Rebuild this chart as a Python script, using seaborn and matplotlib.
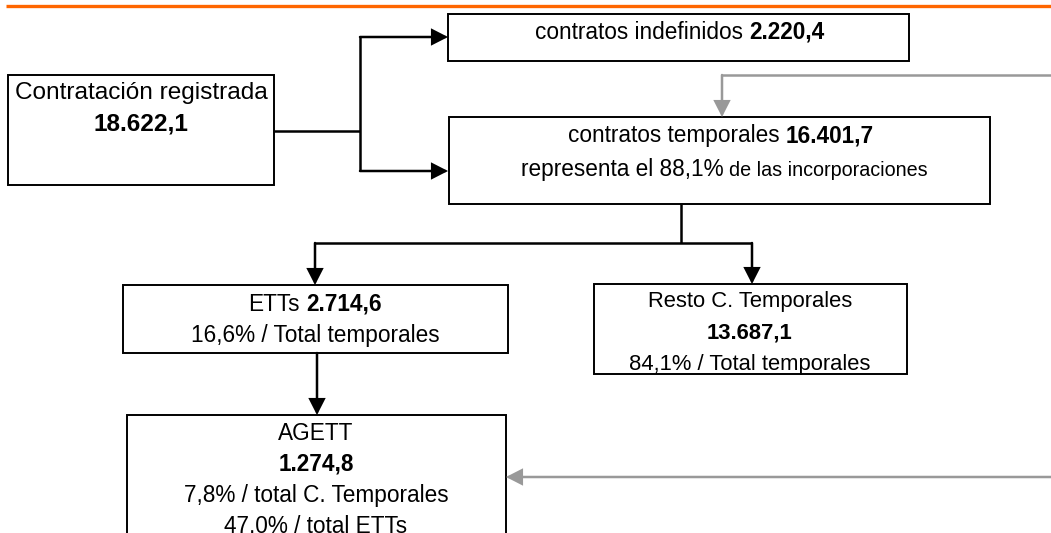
import matplotlib
matplotlib.use("Agg")
import matplotlib.pyplot as plt
from matplotlib.patches import Rectangle
import seaborn as sns

# ---------------- data ----------------
node_titles = ["Contratación registrada", "contratos indefinidos", "contratos temporales",
               "ETTs", "Resto C. Temporales", "AGETT"]
node_values = [18622.1, 2220.4, 16401.7, 2714.6, 13687.1, 1274.8]
share_temporales = 88.1      # % of incorporaciones
share_etts = 16.6            # % of total temporales
share_resto = 84.1           # % of total temporales
share_agett_temp = 7.8       # % of total C. Temporales
share_agett_etts = 47.0      # % of total ETTs


def es(v, dec=1):
    s = f"{v:,.{dec}f}"
    return s.replace(",", "X").replace(".", ",").replace("X", ".")


# ---------------- style ----------------
sns.set_theme(style="white")
plt.rcParams["font.family"] = ["Liberation Sans", "DejaVu Sans"]

W, H = 1051, 533
fig = plt.figure(figsize=(W / 100, H / 100), dpi=100)
ax = fig.add_axes([0, 0, 1, 1])
ax.set_xlim(0, W)
ax.set_ylim(H, 0)
ax.axis("off")
renderer = fig.canvas.get_renderer()

BLACK = "#000000"
GREY = "#999999"
ORANGE = "#FF6600"
FS = 16.3
FS_BIG = 17.6

# orange rule at top
ax.plot([6, W], [6, 6], color=ORANGE, lw=2.4, solid_capstyle="butt")


def box(x0, y0, x1, y1):
    ax.add_patch(Rectangle((x0, y0), x1 - x0, y1 - y0, fill=True, facecolor="white",
                           edgecolor=BLACK, lw=1.4, zorder=2))


def runs_line(xc, yb, runs):
    """runs: list of (text, weight, size, space_before)"""
    texts, widths, gaps = [], [], []
    for s, weight, size, sp in runs:
        t = ax.text(0, yb, s, fontsize=size, fontweight=weight, va="baseline",
                    ha="left", color=BLACK, zorder=3)
        texts.append(t)
        widths.append(t.get_window_extent(renderer).width)
        gaps.append(0.278 * size * 100 / 72 if sp else 0.0)
    total = sum(widths) + sum(gaps)
    x = xc - total / 2
    for t, w, g in zip(texts, widths, gaps):
        x += g
        t.set_x(x)
        x += w


def poly(xs, ys, color=BLACK, arrow=True, lw=1.8):
    ax.plot(xs[:-1] + [xs[-1]] if not arrow else xs[:-1], ys[:-1] if arrow else ys,
            color=color, lw=lw, solid_capstyle="butt", solid_joinstyle="miter", zorder=1)
    if arrow:
        ax.annotate("", xy=(xs[-1], ys[-1]), xytext=(xs[-2], ys[-2]),
                    arrowprops=dict(arrowstyle="-|>,head_length=0.47,head_width=0.24",
                                    mutation_scale=20, color=color, lw=lw,
                                    shrinkA=0, shrinkB=0, joinstyle="miter"),
                    zorder=4)


# ---------------- connectors ----------------
poly([274, 360], [131, 131], arrow=False)
poly([360, 360], [37, 171], arrow=False)
poly([360, 448], [37, 37])
poly([360, 448], [171, 171])
poly([W + 2, 722, 722], [75, 75, 117], color=GREY)
poly([681, 681], [204, 243], arrow=False)
poly([315, 752], [243, 243], arrow=False)
poly([315, 315], [243, 285])
poly([752, 752], [243, 284])
poly([317, 317], [353, 415])
poly([W + 2, 506], [477, 477], color=GREY)

# ---------------- boxes ----------------
box(8, 75, 274, 185)
box(448, 14, 909, 61)
box(449, 117, 990, 204)
box(123, 285, 508, 353)
box(594, 284, 907, 374)
box(127, 415, 506, 560)

# ---------------- texts ----------------
runs_line(141, 99, [(node_titles[0], "normal", FS_BIG, False)])
runs_line(141, 131, [(es(node_values[0]), "bold", FS_BIG, False)])

runs_line(680, 39, [(node_titles[1], "normal", FS, False),
                    (es(node_values[1]), "bold", FS, True)])

runs_line(721, 142, [(node_titles[2], "normal", FS, False),
                     (es(node_values[2]), "bold", FS, True)])
runs_line(724, 176, [(f"representa el {es(share_temporales)}%", "normal", FS, False),
                     ("de las incorporaciones", "normal", 14.2, True)])

runs_line(315, 311, [(node_titles[3], "normal", FS, False),
                     (es(node_values[3]), "bold", FS, True)])
runs_line(315, 342, [(f"{es(share_etts)}% / Total temporales", "normal", FS, False)])

runs_line(750, 307, [(node_titles[4], "normal", 15.8, False)])
runs_line(750, 338, [(es(node_values[4]), "bold", 15.8, False)])
runs_line(750, 370, [(f"{es(share_resto)}% / Total temporales", "normal", 15.8, False)])

runs_line(316, 440, [(node_titles[5], "normal", FS, False)])
runs_line(316, 471, [(es(node_values[5]), "bold", FS, False)])
runs_line(316, 502, [(f"{es(share_agett_temp)}% / total C. Temporales", "normal", FS, False)])
runs_line(316, 533, [(f"{es(share_agett_etts)}% / total ETTs", "normal", FS, False)])

fig.savefig("out.png", dpi=100, facecolor="white")
